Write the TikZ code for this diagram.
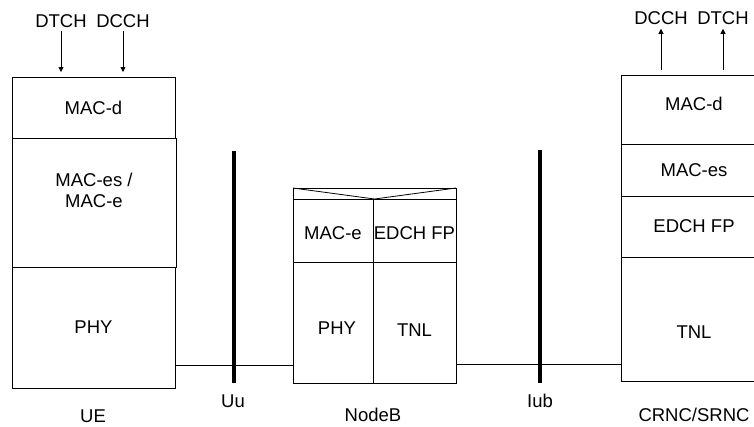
\documentclass[tikz,border=0pt]{standalone}
\usepackage{fontspec}
\setmainfont{Liberation Sans}
\usetikzlibrary{arrows.meta,calc}
\newcommand\liftby[2]{\raisebox{#1}[\height][\depth]{#2}}
\begin{document}
\begin{tikzpicture}[x=1pt,y=-1pt,
  box/.style={draw=black,line width=0.9pt,rectangle,inner sep=0pt,outer sep=0pt,anchor=north west,align=center},
  lbl/.style={inner sep=1pt},
  arr/.style={line width=0.8pt,-{Triangle[length=5pt,width=5pt]}},
  bar/.style={line width=4pt},
  link/.style={line width=0.9pt},
  every node/.style={font=\fontsize{18.5}{21}\selectfont}]
\useasboundingbox (0,0) rectangle (754,426);
\clip (0,0) rectangle (754,426);
% UE
\node[box,minimum width=163pt,minimum height=61pt] (uemacd) at (12,77) {MAC-d};
\node[box,minimum width=164pt,minimum height=129pt] (uemaces) at (12,138) {\liftby{10pt}{\begin{tabular}{@{}c@{}}MAC-es /\\MAC-e\end{tabular}}};
\node[box,minimum width=163pt,minimum height=121pt] (uephy) at (12,267) {PHY};
\node[lbl] (uelbl) at (93,416) {UE};
\node[lbl] (uedtch) at (61,21) {DTCH};
\node[lbl] (uedcch) at (123,21) {DCCH};
\draw[arr,shorten <=2pt,shorten >=5pt] (uedtch.south) -- (uedtch.south |- uemacd.north);
\draw[arr,shorten <=2pt,shorten >=5pt] (uedcch.south) -- (uedcch.south |- uemacd.north);
% NodeB
\node[box,minimum width=163pt,minimum height=11pt] (nbhead) at (293,188) {};
\draw[line width=0.8pt] (nbhead.north west) -- (nbhead.south) -- (nbhead.north east);
\node[box,minimum width=80pt,minimum height=63pt] (nbmace) at (293,199) {\liftby{-3pt}{MAC-e}};
\node[box,minimum width=83pt,minimum height=63pt] (nbedch) at (373,199) {\liftby{-3pt}{EDCH FP}};
\node[box,minimum width=80pt,minimum height=121pt] (nbphy) at (293,262) {\liftby{-6pt}{\hspace{8pt}PHY}};
\node[box,minimum width=83pt,minimum height=121pt] (nbtnl) at (373,262) {\liftby{-8pt}{TNL}};
\node[lbl] (nblbl) at (373,415) {NodeB};
% CRNC/SRNC
\node[box,minimum width=146pt,minimum height=69pt] (rnmacd) at (621,75) {\liftby{6pt}{MAC-d}};
\node[box,minimum width=146pt,minimum height=52pt] (rnmaces) at (621,144) {MAC-es};
\node[box,minimum width=146pt,minimum height=61pt] (rnedch) at (621,196) {EDCH FP};
\node[box,minimum width=146pt,minimum height=124pt] (rntnl) at (621,257) {\liftby{-13pt}{TNL}};
\node[lbl] (rnlbl) at (694,415) {CRNC/SRNC};
\node[lbl] (rndcch) at (661,18) {DCCH};
\node[lbl] (rndtch) at (723,18) {DTCH};
\draw[arr,shorten <=5pt,shorten >=3pt] (rndcch.south |- rnmacd.north) -- (rndcch.south);
\draw[arr,shorten <=5pt,shorten >=3pt] (rndtch.south |- rnmacd.north) -- (rndtch.south);
% interfaces
\coordinate (uutop) at (234,151);
\coordinate (uubot) at (234,383);
\draw[bar] (uutop) -- (uubot);
\node[lbl] (uulbl) at (233,401) {Uu};
\coordinate (iubtop) at (540,150);
\coordinate (iubbot) at (540,383);
\draw[bar] (iubtop) -- (iubbot);
\node[lbl] (iublbl) at (540,401) {Iub};
% links
\draw[link] ([yshift=23pt]uephy.south east) -- ([yshift=18pt]nbphy.south west);
\draw[link] ([yshift=19pt]nbtnl.south east) -- ([yshift=17pt]rntnl.south west);
\end{tikzpicture}
\end{document}
